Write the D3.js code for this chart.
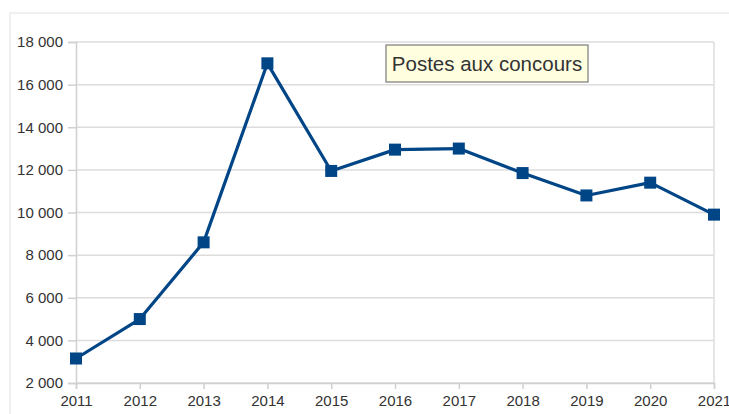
<!DOCTYPE html>
<html>
<head>
<meta charset="utf-8">
<script src="https://cdn.jsdelivr.net/npm/d3@7"></script>
<style>
body{margin:0;background:#fff;}
svg{display:block;font-family:"Liberation Sans",Arial,sans-serif;}
</style>
</head>
<body>
<svg id="chart" width="729" height="414"></svg>
<script>
var years = [2011,2012,2013,2014,2015,2016,2017,2018,2019,2020,2021];
var postes = [3150,5000,8600,17000,11950,12950,13000,11850,10800,11400,9900];
var yTicks = [2000,4000,6000,8000,10000,12000,14000,16000,18000];
var seriesName = "Postes aux concours";

function makeChart(){
	var svg = d3.select("#chart");
	var fr = d3.formatLocale({decimal:",",thousands:" ",grouping:[3],currency:["","€"]});
	var fmt = fr.format(",d");

	var x = d3.scaleLinear().domain([2011,2021]).range([76,714]);
	var y = d3.scaleLinear().domain([2000,18000]).range([383,42]);

	// outer frame
	svg.append("rect").attr("x",10).attr("y",13).attr("width",730).attr("height",420)
	.attr("fill","none").attr("stroke","#ececec").attr("stroke-width",1.5);

	// grid
	svg.append("g").selectAll("line").data(yTicks).enter()
	.append("line").attr("x1",76).attr("x2",714)
	.attr("y1",d=>y(d)).attr("y2",d=>y(d))
	.attr("stroke","#dcdcdc").attr("stroke-width",1.5);
	svg.append("line").attr("x1",714).attr("x2",714).attr("y1",42).attr("y2",383)
	.attr("stroke","#dcdcdc").attr("stroke-width",1.5);

	var yAxis = svg.append("g").attr("transform","translate(76,0)")
	.call(d3.axisLeft(y).tickValues(yTicks).tickFormat(fmt).tickSize(8).tickPadding(5));
	var xAxis = svg.append("g").attr("transform","translate(0,383)")
	.call(d3.axisBottom(x).tickValues(years).tickFormat(d3.format("d")).tickSize(6).tickPadding(6));
	[yAxis,xAxis].forEach(function(a){
		a.select(".domain").attr("stroke","#d0d0d0").attr("stroke-width",1.5);
		a.selectAll(".tick line").attr("stroke","#d0d0d0").attr("stroke-width",1.5);
		a.selectAll("text").attr("font-size",15).attr("fill","#333")
		.attr("font-family","Liberation Sans, Arial, sans-serif");
	});

	var data = years.map((d,i)=>({year:d,v:postes[i]}));
	var line = d3.line().x(d=>x(d.year)).y(d=>y(d.v));
	svg.append("path").datum(data).attr("d",line)
	.attr("fill","none").attr("stroke","#004586").attr("stroke-width",3.2)
	.attr("stroke-linejoin","round");

	var ms = 12;
	svg.append("g").selectAll("rect").data(data).enter()
	.append("rect").attr("width",ms).attr("height",ms)
	.attr("x",d=>x(d.year)-ms/2).attr("y",d=>y(d.v)-ms/2)
	.attr("fill","#004586");

	// legend
	var lg = svg.append("g");
	lg.append("rect").attr("x",386).attr("y",45).attr("width",202).attr("height",37)
	.attr("fill","#ffffe0").attr("stroke","#7a7a7a").attr("stroke-width",1.2);
	lg.append("text").attr("x",487).attr("y",71).attr("text-anchor","middle")
	.attr("font-size",20.5).attr("fill","#333").text(seriesName);
}

makeChart();
</script>
</body>
</html>
